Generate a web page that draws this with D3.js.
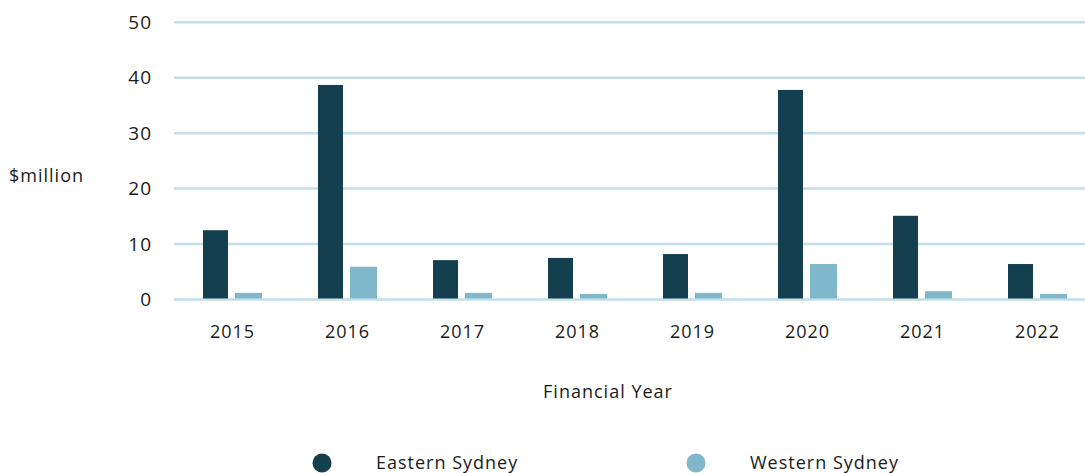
<!DOCTYPE html>
<html>
<head>
<meta charset="utf-8">
<script src="https://cdn.jsdelivr.net/npm/d3@7"></script>
<style>
    body { margin: 0; background: #fff; }
    text { font-family: "Open Sans", Lato, sans-serif; fill: #1a1a1a; letter-spacing: 1px; }
</style>
</head>
<body>
<svg id="chart"></svg>
<script>
var years = ['2015', '2016', '2017', '2018', '2019', '2020', '2021', '2022'];
var eastern = [12.5, 38.7, 7.1, 7.5, 8.2, 37.8, 15.1, 6.4];
var western = [1.2, 5.9, 1.2, 1.0, 1.2, 6.4, 1.5, 1.0];
var yTicks = [0, 10, 20, 30, 40, 50];
var seriesNames = ['Eastern Sydney', 'Western Sydney'];
var seriesColors = ['#133f4f', '#7fb8cb'];

var width = 1085, height = 473;

var svg = d3.select('svg#chart')
    .attr('width', width)
    .attr('height', height) ;

var x = d3.scaleBand()
    .domain(years)
    .range([175, 1095]) ;

var y = d3.scaleLinear()
    .domain([0, 50])
    .range([299.5, 22.3]) ;

// gridlines
svg.append('g').selectAll('line')
    .data(yTicks)
    .enter().append('line')
    .attr('x1', 174)
    .attr('x2', width)
    .attr('y1', function (d) { return y(d); })
    .attr('y2', function (d) { return y(d); })
    .attr('stroke', '#c2dfe9')
    .attr('stroke-width', 2.5) ;

// y tick labels
svg.append('g').selectAll('text')
    .data(yTicks)
    .enter().append('text')
    .attr('x', 152)
    .attr('y', function (d) { return y(d); })
    .attr('dy', '0.35em')
    .attr('text-anchor', 'end')
    .style('font-size', '19px')
    .text(function (d) { return d; }) ;

svg.append('text')
    .attr('x', 9)
    .attr('y', 176)
    .attr('dy', '0.35em')
    .style('font-size', '18px')
    .style('letter-spacing', '1px')
    .text('$million') ;

// bars
var groups = svg.append('g').selectAll('g.year')
    .data(years)
    .enter().append('g')
    .classed('year', true)
    .attr('transform', function (d) { return 'translate(' + x(d) + ',0)'; }) ;

groups.append('rect')
    .attr('x', 28)
    .attr('width', 25)
    .attr('y', function (d, i) { return y(eastern[i]); })
    .attr('height', function (d, i) { return y(0) - y(eastern[i]) - 1; })
    .attr('fill', seriesColors[0]) ;

groups.append('rect')
    .attr('x', 60)
    .attr('width', 27)
    .attr('y', function (d, i) { return y(western[i]); })
    .attr('height', function (d, i) { return y(0) - y(western[i]) - 1; })
    .attr('fill', seriesColors[1]) ;

// x labels
svg.append('g').selectAll('text')
    .data(years)
    .enter().append('text')
    .attr('x', function (d) { return x(d) + x.bandwidth() / 2; })
    .attr('y', 332)
    .attr('dy', '0.35em')
    .attr('text-anchor', 'middle')
    .style('font-size', '18px')
    .text(function (d) { return d; }) ;

svg.append('text')
    .attr('x', 608)
    .attr('y', 392)
    .attr('dy', '0.35em')
    .attr('text-anchor', 'middle')
    .style('font-size', '18px')
    .text('Financial Year') ;

// legend
var legendX = [322, 696];
var legend = svg.append('g').selectAll('g.legend')
    .data(seriesNames)
    .enter().append('g')
    .classed('legend', true)
    .attr('transform', function (d, i) { return 'translate(' + legendX[i] + ',463)'; }) ;

legend.append('circle')
    .attr('r', 9.5)
    .attr('fill', function (d, i) { return seriesColors[i]; }) ;

legend.append('text')
    .attr('x', 54)
    .attr('dy', '0.35em')
    .style('font-size', '18px')
    .text(function (d) { return d; }) ;
</script>
</body>
</html>
